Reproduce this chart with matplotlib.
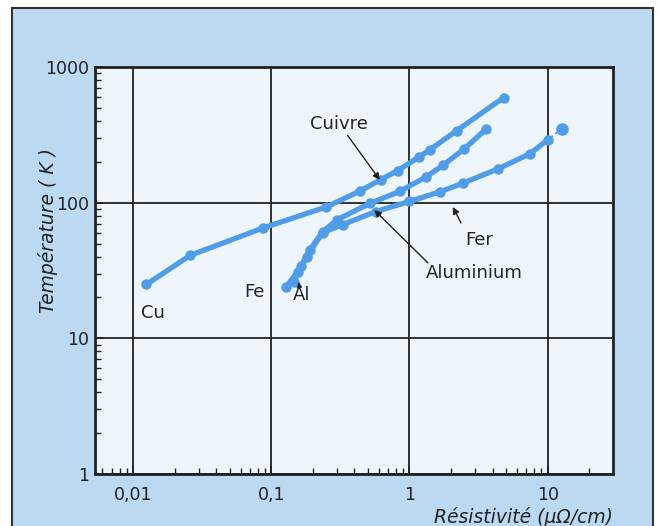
import matplotlib
matplotlib.use("Agg")
import matplotlib.pyplot as plt
import matplotlib.patches as patches
from matplotlib.ticker import FixedLocator, LogLocator, NullFormatter

# --- données (résistivité en µΩ/cm, température en K) ---
cu_rho = [0.0125, 0.026, 0.087, 0.25, 0.44, 0.62, 0.82, 1.18, 1.40, 2.2, 4.8]
cu_temp = [25, 41, 65, 93, 122, 148, 172, 218, 245, 340, 595]

al_rho = [0.145, 0.165, 0.19, 0.235, 0.30, 0.52, 0.85, 1.32, 1.74, 2.5, 3.6]
al_temp = [26, 34, 45, 61, 75, 99, 121, 155, 188, 250, 350]

fe_rho = [0.128, 0.155, 0.18, 0.235, 0.33, 0.57, 1.0, 1.65, 2.43, 4.4, 7.4, 10.0, 12.6]
fe_temp = [24, 31, 40, 60, 69, 86, 102, 120, 139, 178, 229, 290, 350]

x_ticks = [0.01, 0.1, 1, 10]
x_labels = ["0,01", "0,1", "1", "10"]
y_ticks = [1, 10, 100, 1000]
y_labels = ["1", "10", "100", "1000"]

BLEU = "#4f9de8"
FOND = "#bcd9f2"
INT = "#eef5fb"
NOIR = "#222222"
POLICE = ["Liberation Sans Narrow", "DejaVu Sans"]

plt.rcParams['font.family'] = POLICE

fig = plt.figure(figsize=(6.6, 5.26), dpi=100)
fig.patch.set_facecolor("white")

# cadre bleu (axe de fond)
bg = fig.add_axes([0, 0, 1, 1], zorder=0)
bg.set_xlim(0, 660); bg.set_ylim(526, 0); bg.axis("off")
bg.add_patch(patches.Rectangle((12, 8), 641, 540, facecolor=FOND,
                               edgecolor="#333333", lw=1.5))

ax = fig.add_axes([95 / 660, 1 - 474 / 526, (613 - 95) / 660, (474 - 67) / 526], zorder=1)
ax.set_facecolor(INT)
ax.set_xscale("log"); ax.set_yscale("log")
ax.set_xlim(0.0053, 29.7); ax.set_ylim(1, 1000)

# courbes
kw = dict(color=BLEU, lw=3.8, marker="o", ms=6.5, solid_capstyle="round", zorder=3)
ax.plot(cu_rho, cu_temp, **kw)
ax.plot(al_rho, al_temp, **kw)
ax.plot(fe_rho[:-1], fe_temp[:-1], **kw)
ax.plot(fe_rho[-2:], fe_temp[-2:], color=BLEU, lw=1.3, ls="--", zorder=3)
ax.plot(fe_rho[-1:], fe_temp[-1:], color=BLEU, marker="o", ms=8, ls="none", zorder=3)

# axes / grille
ax.xaxis.set_major_locator(FixedLocator(x_ticks))
ax.yaxis.set_major_locator(FixedLocator(y_ticks))
ax.set_xticklabels(x_labels); ax.set_yticklabels(y_labels)
ax.xaxis.set_minor_locator(LogLocator(base=10, subs=range(2, 10)))
ax.yaxis.set_minor_locator(LogLocator(base=10, subs=range(2, 10)))
ax.xaxis.set_minor_formatter(NullFormatter()); ax.yaxis.set_minor_formatter(NullFormatter())
ax.grid(True, which="major", color=NOIR, lw=1.3)
ax.tick_params(which="both", direction="in", colors=NOIR, labelsize=12.5)
ax.tick_params(which="major", length=6, width=1.2)
ax.tick_params(which="minor", length=4, width=1)
ax.tick_params(axis="x", pad=9)
ax.tick_params(axis="y", pad=4)
for s in ax.spines.values():
    s.set_linewidth(2); s.set_color(NOIR)

# textes
fig.text(48 / 660, 1 - 230 / 526, "Température ( K )", rotation=90, ha="center", va="center",
         fontsize=13.5, style="italic", color=NOIR, zorder=5)
fig.text(613 / 660, 1 - 517 / 526, "Résistivité (µΩ/cm)", ha="right", va="center",
         fontsize=13.5, style="italic", color=NOIR, zorder=5)

tk = dict(fontsize=13, color=NOIR, ha="center", va="center")
ax.text(0.014, 15.4, "Cu", **tk)
ax.text(0.075, 22, "Fe", **tk)
ax.text(0.167, 21, "Al", **tk)

fl = dict(arrowstyle="-|>", color=NOIR, lw=1, mutation_scale=10, shrinkA=0, shrinkB=0)
ax.annotate("", xy=(0.158, 26), xytext=(0.16, 23.5),
            arrowprops=dict(fl, mutation_scale=7), zorder=4)
ax.annotate("Cuivre", xy=(0.61, 147), xytext=(0.31, 382), arrowprops=fl,
            ha="center", va="center", fontsize=13, color=NOIR)
ax.annotate("", xy=(0.555, 88.5), xytext=(1.36, 36), arrowprops=fl)
ax.text(2.95, 30.5, "Aluminium", ha="center", va="center", fontsize=13, color=NOIR)
ax.annotate("", xy=(2.06, 93), xytext=(2.36, 70.8), arrowprops=fl)
ax.text(3.18, 53.5, "Fer", ha="center", va="center", fontsize=13, color=NOIR)

fig.savefig("out.png", dpi=100)
